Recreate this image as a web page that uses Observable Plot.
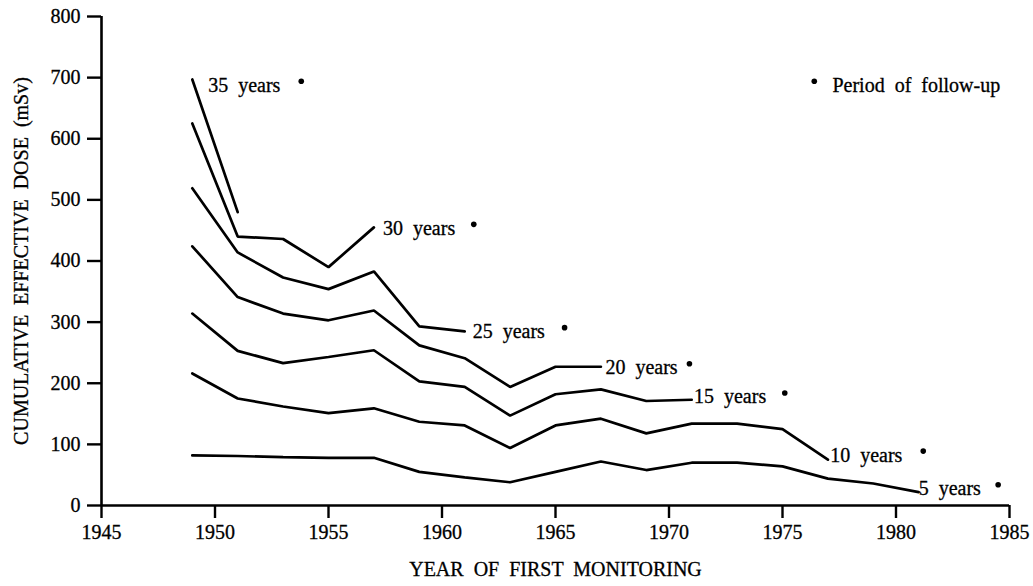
<!DOCTYPE html>
<html><head><meta charset="utf-8">
<script src="https://cdn.jsdelivr.net/npm/d3@7"></script>
<script src="https://cdn.jsdelivr.net/npm/@observablehq/plot@0.6"></script>
<style>
body{margin:0;background:#fff}
#chart svg text{word-spacing:5px; stroke:#000; stroke-width:0.3px}
</style></head><body><div id="chart"></div>
<script>
// Year of first monitoring (cohort mid-points)
const years = [1949,1951,1953,1955,1957,1959,1961,1963,1965,1967,1969,1971,1973,1975,1977,1979,1981];
// Cumulative effective dose (mSv) by period of follow-up
const dose35 = [697, 480];
const dose30 = [625, 440, 436, 390, 455];
const dose25 = [519, 414, 373, 354, 383, 293, 285];
const dose20 = [424, 341, 314, 303, 319, 262, 241, 194, 227, 227];
const dose15 = [314, 253, 233, 243, 254, 203, 194, 147, 182, 190, 171, 173];
const dose10 = [216, 175, 162, 151, 159, 137, 131, 94, 131, 142, 118, 134, 134, 125, 75];
const dose5  = [82, 81, 79, 78, 78, 55, 46, 38, 55, 72, 58, 70, 70, 64, 44, 36, 22];

const periods = ["35 years","30 years","25 years","20 years","15 years","10 years","5 years"];
const seriesValues = [dose35, dose30, dose25, dose20, dose15, dose10, dose5];

// Annotation positions (data coordinates)
const labelX = [1949.7, 1957.4, 1961.35, 1967.2, 1971.1, 1977.1, 1981.0];
const labelY = [687, 453, 284, 226, 178, 82, 27];
const markX  = [1953.8, 1961.4, 1965.4, 1970.9, 1975.1, 1981.2, 1984.5];
const markY  = [694, 460, 291, 232, 184, 89, 34];
const legendText = "Period of follow-up";
const legendX = 1977.2, legendY = 687, legendMarkX = 1976.4, legendMarkY = 694;

const xTicks = [1945,1950,1955,1960,1965,1970,1975,1980,1985];
const yTicks = [0,100,200,300,400,500,600,700,800];

const rows = periods.flatMap((p, k) => seriesValues[k].map((v, i) => ({period: p, year: years[i], dose: v})));
const labels = periods.map((p, k) => ({text: p, x: labelX[k], y: labelY[k], mx: markX[k], my: markY[k]}));

const font = "'Liberation Serif', 'DejaVu Serif', serif";
const fs = 20;
const chart = Plot.plot({
  width: 1033, height: 586,
  marginLeft: 101, marginRight: 24, marginTop: 16, marginBottom: 81,
  style: {fontFamily: font, fontSize: fs + "px", color: "#000", background: "#fff"},
  x: {domain: [1945, 1985]},
  y: {domain: [0, 800]},
  marks: [
    Plot.axisX({ticks: xTicks, tickFormat: d => String(d), tickSize: 13, tickPadding: 6, label: null, fontSize: fs, strokeWidth: 2.4}),
    Plot.axisY({ticks: yTicks, tickSize: 14, tickPadding: 7, label: null, fontSize: fs, strokeWidth: 2.4}),
    Plot.ruleX([1945], {stroke: "#000", strokeWidth: 2.6}),
    Plot.ruleY([0], {stroke: "#000", strokeWidth: 2.6}),
    Plot.line(rows, {x: "year", y: "dose", z: "period", stroke: "#000", strokeWidth: 2.7, strokeLinejoin: "miter"}),
    Plot.text(labels, {x: "x", y: "y", text: "text", textAnchor: "start", fontSize: fs, fill: "#000"}),
    Plot.dot(labels, {x: "mx", y: "my", r: 2.8, fill: "#000", stroke: null}),
    Plot.dot([0], {x: () => legendMarkX, y: () => legendMarkY, r: 2.8, fill: "#000", stroke: null}),
    Plot.text([legendText], {x: () => legendX, y: () => legendY, text: d => d, textAnchor: "start", fontSize: fs, fill: "#000"}),
    Plot.text(["YEAR OF FIRST MONITORING"], {frameAnchor: "bottom", dy: 70, text: d => d, textAnchor: "middle", fontSize: fs, fill: "#000"}),
    Plot.text(["CUMULATIVE EFFECTIVE DOSE (mSv)"], {frameAnchor: "left", dx: -80, rotate: -90, text: d => d, textAnchor: "middle", fontSize: fs, fill: "#000"})
  ]
});
document.getElementById("chart").append(chart);
</script></body></html>
